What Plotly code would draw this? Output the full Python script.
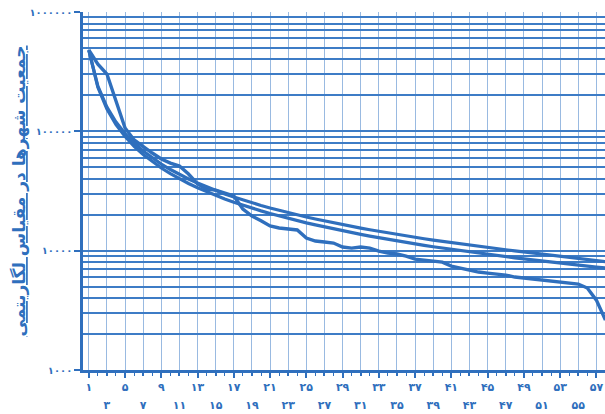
import plotly.graph_objects as go

# ---- data ----
ranks = list(range(1, 59))

# actual city populations by rank (kinked curve)
actual = [480000, 366000, 302000, 176000, 106600, 84600, 73900, 65800, 58600, 54200,
          51200, 43900, 36200, 32800, 32200, 30400, 28700, 22300, 19500, 17800,
          16100, 15500, 15200, 14900, 12750, 12040, 11810, 11580, 10720, 10510,
          10720, 10510, 9920, 9550, 9370, 9010, 8500, 8340, 8180, 8020,
          7430, 7150, 6880, 6620, 6490, 6370, 6240, 6010, 5890, 5780,
          5670, 5560, 5460, 5350, 5250, 4860, 3850, 2620]

# smooth rank-size curve (upper)
rank_size_a = [478600, 239300, 159500, 119650, 95720, 79770, 68370, 59830, 53180, 47860,
               43510, 39880, 36820, 34190, 31910, 29910, 28150, 26590, 25190, 23930,
               22790, 21750, 20810, 19940, 19140, 18410, 17730, 17090, 16500, 15950,
               15440, 14960, 14500, 14080, 13670, 13290, 12940, 12590, 12270, 11970,
               11670, 11400, 11130, 10880, 10640, 10400, 10180, 9970, 9770, 9570,
               9380, 9200, 9030, 8860, 8700, 8500, 8300, 8100]

# smooth rank-size curve (lower)
rank_size_b = [478600, 233550, 153480, 113980, 90480, 74920, 63870, 55630, 49250, 44160,
               40010, 36560, 33660, 31180, 29030, 27140, 25490, 24030, 22720, 21550,
               20480, 19520, 18650, 17840, 17100, 16430, 15800, 15210, 14670, 14160,
               13690, 13250, 12830, 12450, 12070, 11720, 11400, 11080, 10790, 10520,
               10250, 10000, 9760, 9530, 9310, 9100, 8900, 8710, 8530, 8350,
               8170, 8010, 7860, 7710, 7560, 7430, 7290, 7160]

x_top_vals = [1, 5, 9, 13, 17, 21, 25, 29, 33, 37, 41, 45, 49, 53, 57]
x_top_text = ["۱", "۵", "۹", "۱۳", "۱۷", "۲۱", "۲۵", "۲۹", "۳۳", "۳۷", "۴۱", "۴۵", "۴۹", "۵۳", "۵۷"]
x_bot_vals = [3, 7, 11, 15, 19, 23, 27, 31, 35, 39, 43, 47, 51, 55]
x_bot_text = ["۳", "۷", "۱۱", "۱۵", "۱۹", "۲۳", "۲۷", "۳۱", "۳۵", "۳۹", "۴۳", "۴۷", "۵۱", "۵۵"]
x_grid_vals = list(range(1, 59, 2))

y_tick_vals = [1000, 10000, 100000, 1000000]
y_tick_text = ["۱۰۰۰", "۱۰۰۰۰", "۱۰۰۰۰۰", "۱۰۰۰۰۰۰"]
y_minor_vals = [k * 10 ** p for p in (3, 4, 5) for k in range(2, 10)]

y_title = "جمعیت شهرها در مقیاس لگاریتمی"

BLUE = "#2f6fbd"
GRID = "#3d7cc6"
GRID_LIGHT = "rgba(70,130,200,0.55)"
FONT = "DejaVu Sans"

fig = go.Figure()
fig.add_trace(go.Scatter(x=ranks, y=rank_size_a, mode="lines", xaxis="x2",
                         line=dict(color=BLUE, width=3.2), showlegend=False))
fig.add_trace(go.Scatter(x=ranks, y=rank_size_b, mode="lines",
                         line=dict(color=BLUE, width=3.2), showlegend=False))
fig.add_trace(go.Scatter(x=ranks, y=actual, mode="lines",
                         line=dict(color=BLUE, width=3.4), showlegend=False))

fig.update_layout(
    width=605, height=414,
    margin=dict(l=83, r=0, t=12, b=44, autoexpand=False),
    paper_bgcolor="white", plot_bgcolor="white",
    font=dict(family=FONT, color=BLUE),
    xaxis=dict(
        range=[0.36, 57.95], tickmode="array", tickvals=x_top_vals, ticktext=x_top_text,
        automargin=False,
        showgrid=False, ticks="outside", ticklen=5, tickcolor=BLUE, tickwidth=1.5,
        tickfont=dict(size=11, color=BLUE, family=FONT, weight="bold"),
        showline=True, linecolor=BLUE, linewidth=2.5, zeroline=False,
        minor=dict(tickmode="array", tickvals=x_grid_vals, showgrid=True,
                   gridcolor=GRID_LIGHT, gridwidth=1, ticks=""),
    ),
    xaxis2=dict(
        matches="x", overlaying="x", anchor="y", side="bottom",
        automargin=False,
        tickmode="array", tickvals=x_bot_vals, ticktext=x_bot_text,
        showgrid=False, ticks="outside", ticklen=5, tickcolor=BLUE, tickwidth=1.5,
        ticklabelstandoff=20,
        tickfont=dict(size=11, color=BLUE, family=FONT, weight="bold"),
        showline=False, zeroline=False,
        minor=dict(tickmode="array", tickvals=ranks, ticks="outside", ticklen=5,
                   tickcolor=BLUE, tickwidth=1.2, showgrid=False),
    ),
    yaxis=dict(
        type="log", range=[3, 6], tickmode="array", tickvals=y_tick_vals, ticktext=y_tick_text,
        automargin=False,
        showgrid=True, gridcolor=GRID, gridwidth=2.4,
        ticks="outside", ticklen=6, tickcolor=BLUE, tickwidth=1.5,
        tickfont=dict(size=10, color=BLUE, family=FONT, weight="bold"),
        showline=True, linecolor=BLUE, linewidth=2.5, zeroline=False,
        minor=dict(tickmode="array", tickvals=y_minor_vals, showgrid=True,
                   gridcolor=GRID, gridwidth=1.6, ticks=""),
        title=dict(text="<b><u>" + y_title + "</u></b>", standoff=0,
                   font=dict(size=17, color=BLUE, family=FONT)),
    ),
)

fig.write_html(
    "out.html",
    config={"displayModeBar": False},
    post_script="document.body.style.margin='0';document.body.style.overflow='hidden';",
)
